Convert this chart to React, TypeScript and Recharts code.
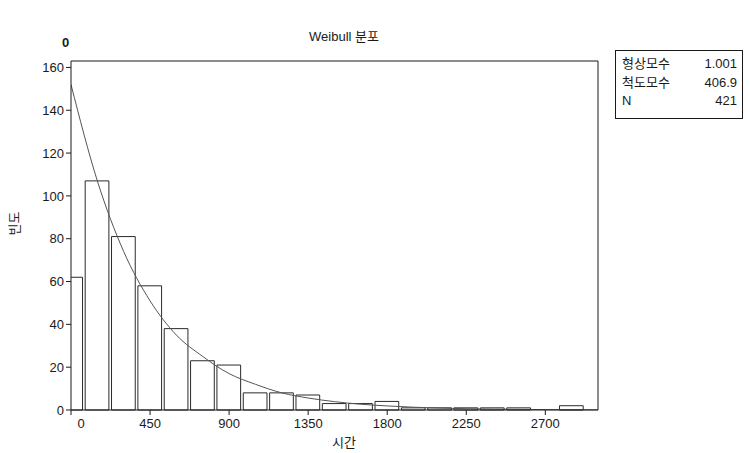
import React from "react";
import {
  ComposedChart,
  Bar,
  Line,
  XAxis,
  YAxis,
  ReferenceLine,
} from "recharts";

// histogram bins (midpoints) and counts
const binMids = [0, 150, 300, 450, 600, 750, 900, 1050, 1200, 1350, 1500, 1650, 1800, 1950, 2100, 2250, 2400, 2550, 2700, 2850];
const binCounts = [62, 107, 81, 58, 38, 23, 21, 8, 8, 7, 3, 3, 4, 1, 1, 1, 1, 1, 0, 2];

// fitted Weibull curve
const curveX = [0, 150, 300, 450, 600, 750, 900, 1050, 1200, 1350, 1500, 1650, 1800, 1950, 2100, 2250, 2400, 2550, 2700, 2850, 3000];
const curveY = [152, 107, 74, 51, 35, 25, 17, 12, 8, 5.6, 3.9, 2.7, 1.9, 1.3, 0.9, 0.6, 0.4, 0.3, 0.2, 0.15, 0.1];

const xTicks = [0, 450, 900, 1350, 1800, 2250, 2700];
const yTicks = [0, 20, 40, 60, 80, 100, 120, 140, 160];

const statLabels = ["형상모수", "척도모수", "N"];
const statValues = ["1.001", "406.9", "421"];

const rows = curveX.map((x) => {
  const bi = binMids.indexOf(x);
  const ci = curveX.indexOf(x);
  return {
    x,
    count: bi >= 0 ? binCounts[bi] : null,
    fit: ci >= 0 ? curveY[ci] : null,
  };
});

const FONT = '"Liberation Sans", Arial, "Noto Sans CJK KR", sans-serif';
const INK = "#1a1a1a";

const XTick = (props: any) => {
  const { x, y, payload } = props;
  return (
    <text
      x={x + (payload.value === 0 ? 10 : 0)}
      y={y}
      dy={11}
      textAnchor="middle"
      fontSize={13}
      fontFamily={FONT}
      fill={INK}
    >
      {payload.value}
    </text>
  );
};

const CHART_W = 750;
const CHART_H = 453;
const PLOT_L = 71;
const PLOT_R = 598;
const PLOT_T = 61;
const PLOT_B = 410;
const X_MAX = 3000;
const BIN_W = 150;

export default function App() {
  const barPx = ((PLOT_R - PLOT_L) * BIN_W) / X_MAX;
  return (
    <div
      style={{
        position: "absolute",
        left: 0,
        top: 0,
        width: CHART_W,
        height: CHART_H,
        background: "#fff",
        fontFamily: FONT,
        color: INK,
      }}
    >
      <ComposedChart
        width={CHART_W}
        height={CHART_H}
        data={rows}
        margin={{ top: PLOT_T, right: CHART_W - PLOT_R, bottom: 13, left: PLOT_L - 50 }}
        barCategoryGap={0}
      >
        <XAxis
          dataKey="x"
          type="number"
          domain={[0, X_MAX]}
          ticks={xTicks}
          allowDataOverflow
          height={PLOT_B - (CHART_H - 13) < 0 ? CHART_H - 13 - PLOT_B : 30}
          tick={<XTick />}
          tickSize={5}
          axisLine={{ stroke: INK }}
          tickLine={{ stroke: INK }}
        />
        <YAxis
          type="number"
          domain={[0, 163]}
          ticks={yTicks}
          width={50}
          tickSize={5}
          tick={{ fontSize: 13, fontFamily: FONT, fill: INK }}
          axisLine={{ stroke: INK }}
          tickLine={{ stroke: INK }}
        />
        <ReferenceLine y={163} stroke={INK} ifOverflow="visible" />
        <ReferenceLine x={X_MAX} stroke={INK} ifOverflow="visible" />
        <Bar
          dataKey="count"
          fill="#fff"
          stroke="#2a2a2a"
          strokeWidth={1}
          barSize={barPx}
          isAnimationActive={false}
        />
        <Line
          dataKey="fit"
          type="monotone"
          stroke="#555"
          strokeWidth={1}
          dot={false}
          connectNulls
          isAnimationActive={false}
        />
      </ComposedChart>

      <div style={{ position: "absolute", left: 307, top: 26, fontSize: 13, width: 74, textAlign: "center" }}>
        Weibull 분포
      </div>
      <div style={{ position: "absolute", left: 62, top: 35, fontSize: 13, fontWeight: "bold" }}>0</div>
      <div style={{ position: "absolute", left: 329, top: 432, fontSize: 13, width: 30, textAlign: "center" }}>
        시간
      </div>
      <div
        style={{
          position: "absolute",
          left: -2,
          top: 214,
          width: 30,
          fontSize: 13,
          textAlign: "center",
          transform: "rotate(-90deg)",
        }}
      >
        빈도
      </div>
      <div
        style={{
          position: "absolute",
          left: 615,
          top: 50,
          width: 128,
          height: 69,
          border: `1px solid ${INK}`,
          boxSizing: "border-box",
          padding: "4px 5px 0 6px",
          fontSize: 13,
          lineHeight: "18.5px",
        }}
      >
        {statLabels.map((l, i) => (
          <div key={l} style={{ display: "flex", justifyContent: "space-between" }}>
            <span>{l}</span>
            <span>{statValues[i]}</span>
          </div>
        ))}
      </div>
    </div>
  );
}
